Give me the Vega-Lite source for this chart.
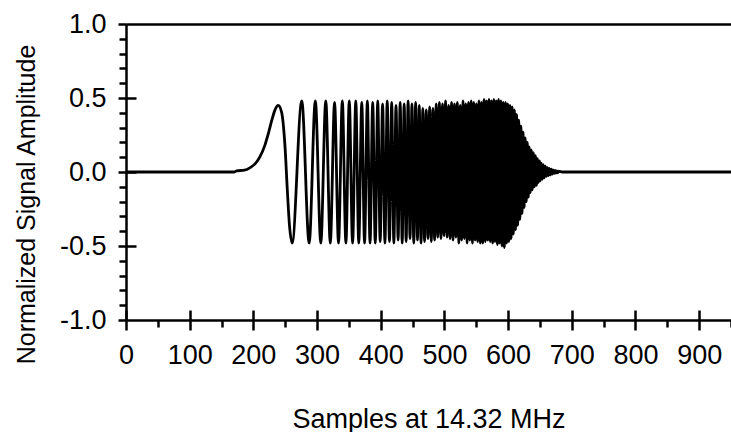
{
  "$schema": "https://vega.github.io/schema/vega-lite/v6.json",
  "width": 605,
  "height": 296,
  "autosize": "none",
  "padding": {"left": 126, "top": 24, "right": 0, "bottom": 112},
  "background": "white",
  "config": {
    "view": {"stroke": null},
    "font": "Liberation Sans",
    "axis": {
      "grid": false,
      "labelFont": "Liberation Sans",
      "titleFont": "Liberation Sans",
      "labelColor": "black",
      "titleColor": "black",
      "domainColor": "black",
      "tickColor": "black",
      "titleFontWeight": "normal",
      "labelFontSize": 27,
      "titleFontSize": 25,
      "domainWidth": 2.5,
      "tickWidth": 2.5
    }
  },
  "data": {
    "values": [
      {"sample": 0, "amp": 0}, {"sample": 170, "amp": 0}, {"sample": 174, "amp": 0.008}, {"sample": 186, "amp": 0.012},
      {"sample": 195, "amp": 0.03}, {"sample": 203, "amp": 0.057}, {"sample": 210, "amp": 0.1}, {"sample": 218, "amp": 0.18},
      {"sample": 223.5, "amp": 0.26}, {"sample": 229, "amp": 0.35}, {"sample": 234, "amp": 0.42}, {"sample": 239, "amp": 0.45},
      {"sample": 244.5, "amp": 0.4}, {"sample": 249.7, "amp": 0.17}, {"sample": 253.3, "amp": -0.12}, {"sample": 256.5, "amp": -0.35},
      {"sample": 260.9, "amp": -0.48}, {"sample": 276.0, "amp": 0.48}, {"sample": 287.6, "amp": -0.48}, {"sample": 297.3, "amp": 0.48},
      {"sample": 305.9, "amp": -0.48}, {"sample": 313.7, "amp": 0.48}, {"sample": 320.8, "amp": -0.48}, {"sample": 327.5, "amp": 0.47},
      {"sample": 333.7, "amp": -0.48}, {"sample": 339.7, "amp": 0.48}, {"sample": 345.3, "amp": -0.48}, {"sample": 350.6, "amp": 0.48},
      {"sample": 355.8, "amp": -0.48}, {"sample": 360.8, "amp": 0.48}, {"sample": 365.5, "amp": -0.48}, {"sample": 370.2, "amp": 0.47},
      {"sample": 374.6, "amp": -0.48}, {"sample": 379.0, "amp": 0.48}, {"sample": 383.2, "amp": -0.48}, {"sample": 387.4, "amp": 0.47},
      {"sample": 391.4, "amp": -0.48}, {"sample": 395.3, "amp": 0.48}, {"sample": 399.1, "amp": -0.47}, {"sample": 402.9, "amp": 0.46},
      {"sample": 406.6, "amp": -0.48}, {"sample": 410.2, "amp": 0.48}, {"sample": 413.7, "amp": -0.47}, {"sample": 417.2, "amp": 0.47},
      {"sample": 420.6, "amp": -0.48}, {"sample": 424.0, "amp": 0.45}, {"sample": 427.3, "amp": -0.46}, {"sample": 430.5, "amp": 0.47},
      {"sample": 433.7, "amp": -0.48}, {"sample": 436.8, "amp": 0.46}, {"sample": 439.9, "amp": -0.47}, {"sample": 443.0, "amp": 0.48},
      {"sample": 446.0, "amp": -0.45}, {"sample": 449.0, "amp": 0.46}, {"sample": 451.9, "amp": -0.48}, {"sample": 454.8, "amp": 0.47},
      {"sample": 457.7, "amp": -0.46}, {"sample": 460.5, "amp": 0.45}, {"sample": 463.3, "amp": -0.48}, {"sample": 466.1, "amp": 0.43},
      {"sample": 468.8, "amp": -0.47}, {"sample": 471.5, "amp": 0.42}, {"sample": 474.2, "amp": -0.45}, {"sample": 476.8, "amp": 0.44},
      {"sample": 479.4, "amp": -0.47}, {"sample": 482.0, "amp": 0.43}, {"sample": 484.6, "amp": -0.46}, {"sample": 487.1, "amp": 0.46},
      {"sample": 489.6, "amp": -0.44}, {"sample": 492.1, "amp": 0.47}, {"sample": 494.6, "amp": -0.45}, {"sample": 497.0, "amp": 0.46},
      {"sample": 499.4, "amp": -0.43}, {"sample": 501.8, "amp": 0.48}, {"sample": 504.2, "amp": -0.44}, {"sample": 506.6, "amp": 0.45},
      {"sample": 508.9, "amp": -0.45}, {"sample": 511.2, "amp": 0.47}, {"sample": 513.5, "amp": -0.46}, {"sample": 515.8, "amp": 0.46},
      {"sample": 518.1, "amp": -0.44}, {"sample": 520.3, "amp": 0.47}, {"sample": 522.6, "amp": -0.48}, {"sample": 524.8, "amp": 0.45},
      {"sample": 527.0, "amp": -0.46}, {"sample": 529.2, "amp": 0.48}, {"sample": 531.3, "amp": -0.45}, {"sample": 533.5, "amp": 0.46},
      {"sample": 535.6, "amp": -0.48}, {"sample": 537.8, "amp": 0.47}, {"sample": 539.9, "amp": -0.46}, {"sample": 542.0, "amp": 0.48},
      {"sample": 544.0, "amp": -0.48}, {"sample": 546.1, "amp": 0.47}, {"sample": 548.2, "amp": -0.46}, {"sample": 550.2, "amp": 0.46},
      {"sample": 552.2, "amp": -0.47}, {"sample": 554.3, "amp": 0.48}, {"sample": 556.3, "amp": -0.48}, {"sample": 558.3, "amp": 0.47},
      {"sample": 560.2, "amp": -0.48}, {"sample": 562.2, "amp": 0.49}, {"sample": 564.2, "amp": -0.47}, {"sample": 566.1, "amp": 0.48},
      {"sample": 568.1, "amp": -0.46}, {"sample": 570.0, "amp": 0.49}, {"sample": 571.9, "amp": -0.47}, {"sample": 573.8, "amp": 0.48},
      {"sample": 575.7, "amp": -0.48}, {"sample": 577.6, "amp": 0.49}, {"sample": 579.4, "amp": -0.47}, {"sample": 581.3, "amp": 0.48},
      {"sample": 583.2, "amp": -0.49}, {"sample": 585.0, "amp": 0.49}, {"sample": 586.8, "amp": -0.48}, {"sample": 588.7, "amp": 0.48},
      {"sample": 590.5, "amp": -0.5}, {"sample": 592.3, "amp": 0.47}, {"sample": 594.1, "amp": -0.51}, {"sample": 595.9, "amp": 0.47},
      {"sample": 597.7, "amp": -0.48}, {"sample": 599.4, "amp": 0.46}, {"sample": 601.2, "amp": -0.47}, {"sample": 603.0, "amp": 0.45},
      {"sample": 604.7, "amp": -0.45}, {"sample": 606.4, "amp": 0.44}, {"sample": 608.2, "amp": -0.42}, {"sample": 609.9, "amp": 0.42},
      {"sample": 611.6, "amp": -0.39}, {"sample": 613.3, "amp": 0.39}, {"sample": 615.0, "amp": -0.36}, {"sample": 616.7, "amp": 0.35},
      {"sample": 618.4, "amp": -0.32}, {"sample": 620.1, "amp": 0.31}, {"sample": 621.8, "amp": -0.28}, {"sample": 623.4, "amp": 0.27},
      {"sample": 625.1, "amp": -0.24}, {"sample": 626.7, "amp": 0.23}, {"sample": 628.4, "amp": -0.2}, {"sample": 630.0, "amp": 0.2},
      {"sample": 631.6, "amp": -0.17}, {"sample": 633.3, "amp": 0.17}, {"sample": 634.9, "amp": -0.14}, {"sample": 636.5, "amp": 0.15},
      {"sample": 638.1, "amp": -0.12}, {"sample": 639.7, "amp": 0.13}, {"sample": 641.3, "amp": -0.1}, {"sample": 642.9, "amp": 0.11},
      {"sample": 644.5, "amp": -0.09}, {"sample": 646.0, "amp": 0.09}, {"sample": 647.6, "amp": -0.07}, {"sample": 649.2, "amp": 0.075},
      {"sample": 650.7, "amp": -0.06}, {"sample": 652.3, "amp": 0.06}, {"sample": 653.8, "amp": -0.05}, {"sample": 655.4, "amp": 0.05},
      {"sample": 656.9, "amp": -0.04}, {"sample": 658.4, "amp": 0.04}, {"sample": 660.0, "amp": -0.03}, {"sample": 661.5, "amp": 0.03},
      {"sample": 663.0, "amp": -0.025}, {"sample": 664.5, "amp": 0.025}, {"sample": 666.0, "amp": -0.02}, {"sample": 667.5, "amp": 0.02},
      {"sample": 669.0, "amp": -0.015}, {"sample": 670.5, "amp": 0.015}, {"sample": 672.0, "amp": -0.01}, {"sample": 673.5, "amp": 0.01},
      {"sample": 674.9, "amp": -0.008}, {"sample": 676.4, "amp": 0.008}, {"sample": 677.9, "amp": -0.005}, {"sample": 679.3, "amp": 0.005},
      {"sample": 685, "amp": 0}, {"sample": 950, "amp": 0}
    ]
  },
  "layer": [
    {
      "mark": {"type": "line", "interpolate": "monotone", "color": "black", "strokeWidth": 2.8, "clip": true},
      "encoding": {
        "x": {
          "field": "sample", "type": "quantitative",
          "scale": {"domain": [0, 950], "nice": false, "zero": false},
          "axis": {
            "orient": "bottom",
            "values": [0, 100, 200, 300, 400, 500, 600, 700, 800, 900],
            "format": "d",
            "tickSize": 10,
            "labelPadding": 12,
            "labelFlush": false,
            "labelOverlap": false,
            "title": "Samples at 14.32 MHz",
            "titleFontSize": 27,
            "titleBaseline": "alphabetic",
            "titleY": 107
          }
        },
        "y": {
          "field": "amp", "type": "quantitative",
          "scale": {"domain": [-1, 1], "nice": false, "zero": false},
          "axis": {
            "orient": "left",
            "values": [-1, -0.5, 0, 0.5, 1],
            "labelExpr": "replace(format(datum.value, '.1f'), '\u2212', '-')",
            "tickSize": 8,
            "labelPadding": 12,
            "labelFlush": false,
            "labelOverlap": false,
            "title": "Normalized Signal Amplitude",
            "titleAngle": -90,
            "titleBaseline": "middle",
            "titleAlign": "center",
            "titleX": -100,
            "titleY": 180
          }
        }
      }
    },
    {
      "mark": {"type": "line", "opacity": 0},
      "encoding": {
        "x": {
          "field": "sample", "type": "quantitative",
          "axis": {"orient": "bottom", "values": [0, 100, 200, 300, 400, 500, 600, 700, 800, 900], "labels": false, "domain": false, "title": null, "tickSize": 10, "offset": -10}
        },
        "y": {
          "field": "amp", "type": "quantitative",
          "axis": {"orient": "left", "values": [-0.5, 0, 0.5], "labels": false, "domain": false, "title": null, "tickSize": 10, "offset": -10}
        }
      }
    },
    {
      "mark": {"type": "line", "opacity": 0},
      "encoding": {
        "x": {
          "field": "sample", "type": "quantitative",
          "axis": {"orient": "bottom", "values": [50, 150, 250, 350, 450, 550, 650, 750, 850, 950], "labels": false, "domain": false, "title": null, "tickSize": 7}
        },
        "y": {
          "field": "amp", "type": "quantitative",
          "axis": {"orient": "left", "values": [-0.9, -0.8, -0.7, -0.6, -0.4, -0.3, -0.2, -0.1, 0.1, 0.2, 0.3, 0.4, 0.6, 0.7, 0.8, 0.9], "labels": false, "domain": false, "title": null, "tickSize": 7}
        }
      }
    },
    {
      "mark": {"type": "line", "opacity": 0},
      "encoding": {
        "x": {
          "field": "sample", "type": "quantitative",
          "axis": {"orient": "top", "labels": false, "ticks": false, "domain": true, "title": null}
        },
        "y": {"field": "amp", "type": "quantitative", "axis": null}
      }
    }
  ],
  "resolve": {"axis": {"x": "independent", "y": "independent"}}
}
